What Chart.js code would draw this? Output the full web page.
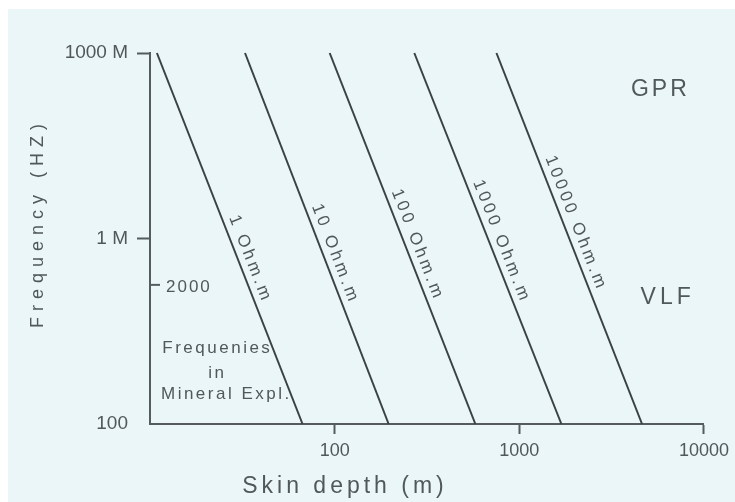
<!DOCTYPE html>
<html>
<head>
<meta charset="utf-8">
<title>Skin depth vs frequency</title>
<script src="https://cdn.jsdelivr.net/npm/chart.js@4.4.1/dist/chart.umd.min.js"></script>
<style>
  html, body { margin: 0; padding: 0; background: #ffffff; }
  #wrap { width: 735px; height: 502px; }
</style>
</head>
<body>
<div id="wrap"><canvas id="skinChart" width="735" height="502"></canvas></div>
<script>
// resistivity of each line (Ohm.m)
const resistivities = [1, 10, 100, 1000, 10000];
const lineLabels = ['1 Ohm.m', '10 Ohm.m', '100 Ohm.m', '1000 Ohm.m', '10000 Ohm.m'];
// skin depth (m) where each line meets the top (1000 M) and the bottom (100) of the frequency axis
const depthAtTop = [10.9, 32.7, 94, 270, 752];
const depthAtBottom = [67, 196, 578, 1690, 4620];
// frequency axis labels, top to bottom
const freqLabels = ['1000 M', '1 M', '100'];
const depthTicks = [100, 1000, 10000];
// extra mark on the frequency axis, sits a quarter of the way from '1 M' to '100'
const extraFreqLabel = '2000';
const extraFreqPos = 1.25;

const FONT = '"Liberation Sans", Arial, sans-serif';
const INK = '#3a4244';
const AXIS = '#545c5e';
const TEXT = '#50585a';

Chart.defaults.font.family = FONT;

function drawText(ctx, s, x, y, size, spacing, align) {
    ctx.save();
    ctx.font = size + 'px ' + FONT;
    ctx.letterSpacing = spacing + 'px';
    ctx.fillStyle = TEXT;
    ctx.textAlign = align || 'center';
    ctx.textBaseline = 'middle';
    ctx.fillText(s, x + (align === 'left' ? 0 : spacing / 2), y);
    ctx.restore();
}

const paperPlugin = {
    id: 'paper',
    beforeDraw(chart) {
        const ctx = chart.ctx;
        ctx.save();
        ctx.fillStyle = '#ffffff';
        ctx.fillRect(0, 0, chart.width, chart.height);
        ctx.fillStyle = '#eaf6f8';
        ctx.fillRect(8, 9, chart.width - 8, chart.height - 9);
        ctx.restore();
    }
};

// where along each line its label starts (0 = top end, 1 = bottom end)
const labelStart = [0.45, 0.42, 0.38, 0.355, 0.29];

const notesPlugin = {
    id: 'notes',
    afterDraw(chart) {
        const ctx = chart.ctx;
        const xs = chart.scales.x;
        const ys = chart.scales.y;
        const area = chart.chartArea;

        // labels running along each resistivity line
        chart.data.datasets.forEach((ds, i) => {
            const pts = chart.getDatasetMeta(i).data;
            const a = pts[0], b = pts[1];
            const ang = Math.atan2(b.y - a.y, b.x - a.x);
            const t = labelStart[i];
            ctx.save();
            ctx.translate(a.x + (b.x - a.x) * t, a.y + (b.y - a.y) * t);
            ctx.rotate(ang);
            ctx.font = '17px ' + FONT;
            ctx.letterSpacing = '3.3px';
            ctx.fillStyle = TEXT;
            ctx.textAlign = 'left';
            ctx.textBaseline = 'alphabetic';
            ctx.fillText(lineLabels[i], 0, -7);
            ctx.restore();
        });

        // the inner 2000 mark
        const ym = ys.getPixelForValue(extraFreqPos);
        ctx.save();
        ctx.strokeStyle = AXIS;
        ctx.lineWidth = 2;
        ctx.beginPath();
        ctx.moveTo(area.left, ym);
        ctx.lineTo(area.left + 10, ym);
        ctx.stroke();
        ctx.restore();
        drawText(ctx, extraFreqLabel, area.left + 16, ym + 2, 17, 2, 'left');

        // band names
        drawText(ctx, 'GPR', xs.getPixelForValue(5700), ys.getPixelForValue(0.2), 23, 3);
        drawText(ctx, 'VLF', xs.getPixelForValue(6200), ys.getPixelForValue(1.32), 23, 4);

        // note in the lower left corner
        const nx = xs.getPixelForValue(22.8);
        drawText(ctx, 'Frequenies', nx, ys.getPixelForValue(1.59), 17, 2.5);
        drawText(ctx, 'in', nx, ys.getPixelForValue(1.725), 17, 2.5);
        drawText(ctx, 'Mineral Expl.', nx + 9, ys.getPixelForValue(1.84), 17, 2.5);

        // axis titles
        drawText(ctx, 'Skin depth (m)', 343, 487, 23, 4);
        ctx.save();
        ctx.translate(38, 226);
        ctx.rotate(-Math.PI / 2);
        drawText(ctx, 'Frequency (HZ)', 0, 0, 18, 6);
        ctx.restore();
    }
};

const datasets = resistivities.map((r, i) => ({
    label: lineLabels[i],
    data: [
        { x: depthAtTop[i], y: freqLabels[0] },
        { x: depthAtBottom[i], y: freqLabels[freqLabels.length - 1] }
    ],
    borderColor: INK,
    borderWidth: 2,
    pointRadius: 0,
    tension: 0,
    clip: false
}));

new Chart(document.getElementById('skinChart'), {
    type: 'line',
    data: { datasets: datasets },
    options: {
        responsive: false,
        animation: false,
        layout: { padding: { top: 53, right: 30, left: 0, bottom: 0 } },
        plugins: {
            legend: { display: false },
            tooltip: { enabled: false }
        },
        scales: {
            x: {
                type: 'logarithmic',
                min: 10,
                max: 10000,
                border: { display: true, color: AXIS, width: 2 },
                grid: {
                    drawOnChartArea: false,
                    drawTicks: true,
                    tickLength: 10,
                    tickColor: AXIS,
                    tickWidth: 2
                },
                ticks: {
                    color: TEXT,
                    font: { size: 18 },
                    padding: 6,
                    autoSkip: false,
                    maxRotation: 0,
                    callback: v => String(v)
                },
                afterBuildTicks: s => { s.ticks = depthTicks.map(v => ({ value: v })); },
                afterFit: s => { s.height = 78; }
            },
            y: {
                type: 'category',
                labels: freqLabels,
                border: { display: true, color: AXIS, width: 2 },
                grid: {
                    drawOnChartArea: false,
                    drawTicks: true,
                    tickLength: 13,
                    tickWidth: 2,
                    tickColor: c => (c.index === freqLabels.length - 1 ? 'rgba(0,0,0,0)' : AXIS)
                },
                ticks: {
                    color: TEXT,
                    font: { size: 19 },
                    padding: 9
                },
                afterFit: s => { s.width = 150; }
            }
        }
    },
    plugins: [paperPlugin, notesPlugin]
});
</script>
</body>
</html>
